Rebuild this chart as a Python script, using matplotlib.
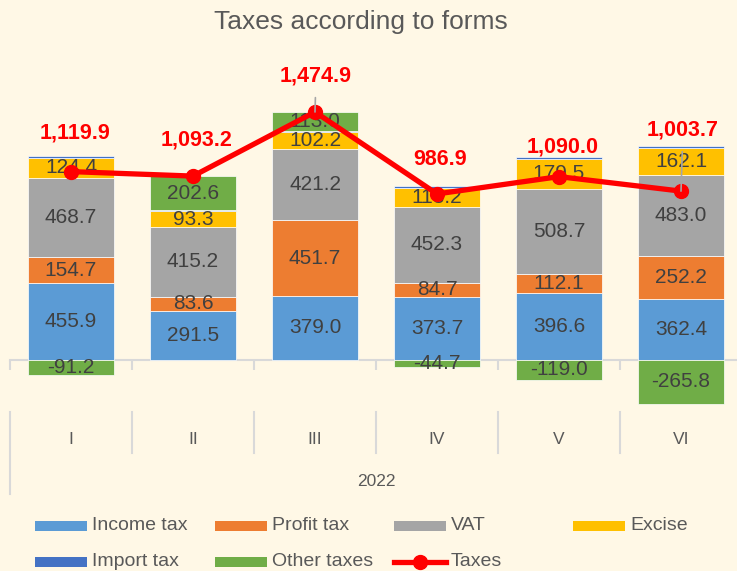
import matplotlib.pyplot as plt
import matplotlib.transforms as mtransforms
import numpy as np
from matplotlib.lines import Line2D
from matplotlib.patches import Rectangle

# data (millions)
months = ["I", "II", "III", "IV", "V", "VI"]
year = "2022"

income_tax = [455.9, 291.5, 379.0, 373.7, 396.6, 362.4]
profit_tax = [154.7, 83.6, 451.7, 84.7, 112.1, 252.2]
vat = [468.7, 415.2, 421.2, 452.3, 508.7, 483.0]
excise = [124.4, 93.3, 102.2, 113.2, 179.5, 162.1]
import_tax = [7.4, 7.0, 7.8, 7.7, 12.1, 9.8]
other_taxes = [-91.2, 202.6, 113.0, -44.7, -119.0, -265.8]
taxes_total = [1119.9, 1093.2, 1474.9, 986.9, 1090.0, 1003.7]

BG = "#FFF8E6"
TEXT = "#595959"
LABEL = "#404040"
W, H = 737, 571

plt.rcParams["font.family"] = ["Liberation Sans", "DejaVu Sans"]

fig = plt.figure(figsize=(W / 100, H / 100), dpi=100, facecolor=BG)


def fx(px):
    return px / W


def fy(py):
    return 1 - py / H


# axes: zero at y=359.5px, 0.168 px per unit
ax = fig.add_axes([fx(10), fy(410), fx(732), fy(91) - fy(410)])
ax.set_facecolor("none")
ax.set_xlim(-0.5, 5.5)
ax.set_ylim(-300, 1600)

x = np.arange(len(months))

series = [
    ("Income tax", income_tax, "#5B9BD5", True),
    ("Profit tax", profit_tax, "#ED7D31", True),
    ("VAT", vat, "#A5A5A5", True),
    ("Excise", excise, "#FFC000", True),
    ("Import tax", import_tax, "#4472C4", False),
    ("Other taxes", other_taxes, "#70AD47", True),
]

pos_bottom = np.zeros(len(months))
neg_bottom = np.zeros(len(months))
for name, vals, color, labeled in series:
    vals = np.array(vals)
    bottom = np.where(vals >= 0, pos_bottom, neg_bottom)
    ax.bar(x, vals, width=0.71, bottom=bottom, color=color,
           edgecolor="white", linewidth=0.5, zorder=2)
    if labeled:
        for xi, b, v in zip(x, bottom, vals):
            ax.text(xi, b + v / 2, f"{v:.1f}", ha="center", va="center",
                    fontsize=15, color=LABEL, zorder=3)
    pos_bottom += np.where(vals >= 0, vals, 0)
    neg_bottom += np.where(vals < 0, vals, 0)

# total line
ax.plot(x, taxes_total, color="#FF0000", lw=3.8, marker="o",
        markersize=10, zorder=4, solid_capstyle="round")

label_offsets = [(4, 39), (4, 36), (1, 36), (3, 34), (4, 30), (2, 61)]
leader = [False, False, True, False, False, True]
for xi, v, (dx, dy), lead in zip(x, taxes_total, label_offsets, leader):
    arrow = None
    if lead:
        arrow = dict(arrowstyle="-", color="#A6A6A6", lw=1.2,
                     shrinkA=6, shrinkB=0)
    ax.annotate(f"{v:,.1f}", xy=(xi, v), xytext=(dx, dy),
                textcoords="offset pixels", ha="center", va="center",
                fontsize=15.5, fontweight="bold", color="#FF0000",
                arrowprops=arrow, zorder=5)

# zero axis with boundary ticks
for s in ["top", "right", "left"]:
    ax.spines[s].set_visible(False)
ax.spines["bottom"].set_position(("data", 0))
ax.spines["bottom"].set_color("#D9D9D9")
ax.spines["bottom"].set_linewidth(1.5)
ax.spines["bottom"].set_zorder(1)
ax.set_yticks([])
ax.set_xticks(np.arange(-0.5, len(months), 1.0))
ax.set_xticklabels([])
ax.tick_params(axis="x", direction="out", length=7, width=1.5,
               color="#D9D9D9")

# multi-level category labels
trans = mtransforms.blended_transform_factory(ax.transData, fig.transFigure)
for b in np.arange(-0.5, len(months), 1.0):
    y_end = 494 if b == -0.5 else 453
    ax.plot([b, b], [fy(412), fy(y_end)], color="#D9D9D9", lw=1.5,
            transform=trans, clip_on=False)
for xi, m in zip(x, months):
    ax.text(xi, fy(439), m, transform=trans, ha="center", va="center",
            fontsize=12.5, color=TEXT)
ax.text((len(months) - 1) / 2, fy(481), year, transform=trans,
        ha="center", va="center", fontsize=12.5, color=TEXT)

# title
fig.text(fx(361), fy(22), "Taxes according to forms", ha="center",
         va="center", fontsize=19, color=TEXT)

# legend drawn by hand (evenly spaced like the original)
legend_items = [
    ("Income tax", "#5B9BD5", 35, 526),
    ("Profit tax", "#ED7D31", 215, 526),
    ("VAT", "#A5A5A5", 394, 526),
    ("Excise", "#FFC000", 573, 526),
    ("Import tax", "#4472C4", 35, 562),
    ("Other taxes", "#70AD47", 215, 562),
]
for name, color, px, py in legend_items:
    fig.patches.append(Rectangle((fx(px), fy(py + 5)), fx(52), fy(py - 5) - fy(py + 5),
                                 transform=fig.transFigure, facecolor=color,
                                 edgecolor="none"))
    fig.text(fx(px + 57), fy(py), name, ha="left", va="center",
             fontsize=14, color=TEXT)
fig.lines.append(Line2D([fx(394), fx(446)], [fy(562), fy(562)],
                        transform=fig.transFigure, color="#FF0000", lw=3.8))
fig.lines.append(Line2D([fx(420)], [fy(562)], transform=fig.transFigure,
                        color="#FF0000", marker="o", markersize=10))
fig.text(fx(451), fy(562), "Taxes", ha="left", va="center",
         fontsize=14, color=TEXT)

fig.savefig("out.png", dpi=100, facecolor=BG)
